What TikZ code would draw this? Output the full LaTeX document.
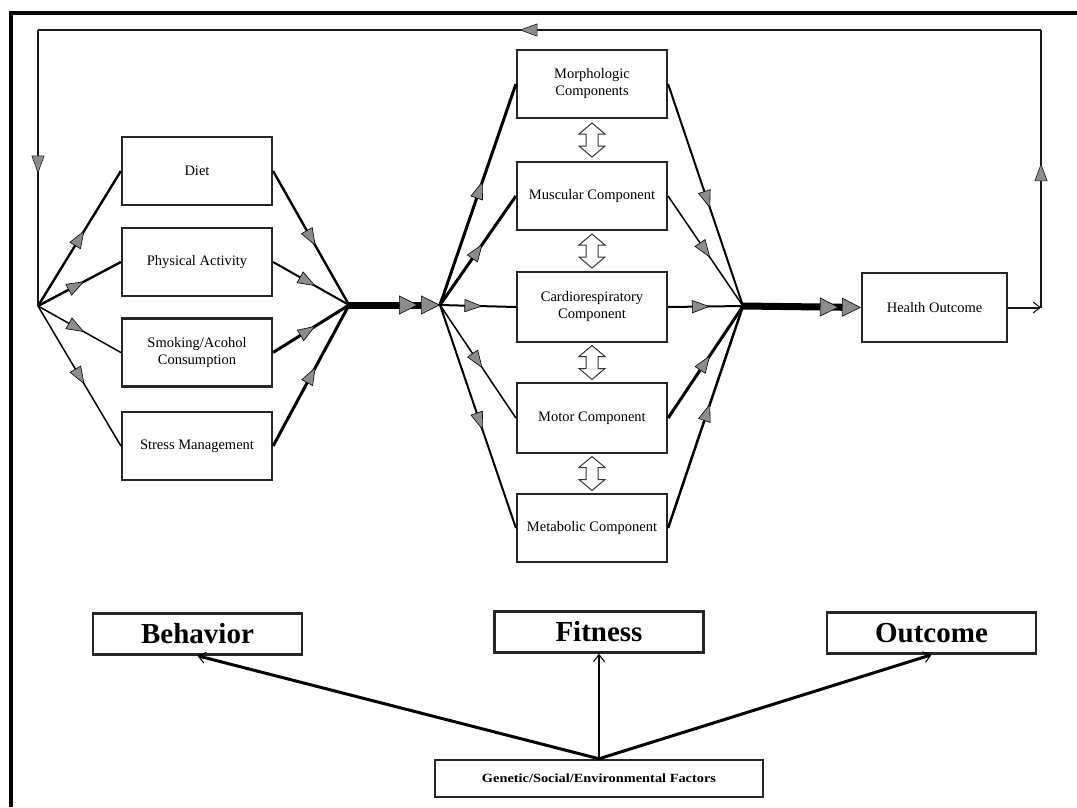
\documentclass[tikz,border=0pt]{standalone}
\usepackage{fontspec}
\usepackage{graphicx}
\setmainfont{Liberation Serif}
\usetikzlibrary{arrows.meta,decorations.markings,calc}

\tikzset{
  x=1pt, y=-1pt,
  gtri/.tip={Triangle[length=18pt,width=13pt,fill=gray!90,line width=0.6pt]},
  barb/.tip={Straight Barb[length=7pt,width=11pt,line width=1.1pt]},
  comp/.style={draw=black!85, line width=2.2pt, fill=white, inner sep=2pt,
    align=center, font=\fontsize{14.5}{17}\selectfont,
    minimum width=150pt, minimum height=68pt},
  stage/.style={draw=black!85, line width=2.5pt, fill=white, inner sep=0pt,
    minimum width=209pt, minimum height=41pt,
    font=\bfseries\fontsize{29}{30}\selectfont},
  link/.style={draw=black, line width=#1, postaction={decorate},
    decoration={markings, mark=at position 0.56 with {\arrow{gtri}}}},
  link/.default=2pt,
  trunk/.style={draw=black, line width=7pt,
    -{Triangle[length=19pt,width=19pt,fill=gray!90,line width=0.6pt,sep=3pt]
      Triangle[length=19pt,width=19pt,fill=gray!90,line width=0.6pt]}},
  feedback/.style={draw=black!90, line width=2pt},
  factor/.style={draw=black, line width=#1, -barb},
  factor/.default=3pt,
  swap/.style={draw=black!80, fill=white, line width=1pt, line join=miter}
}

\begin{document}
\begin{tikzpicture}
\useasboundingbox (0,0) rectangle (1077,807);

% outer frame (top and left edges only)
\draw[line width=4pt, line join=miter] (11,807) -- (11,13) -- (1077,13);

% behaviour components
\node[comp] (diet)   at (197,171)   {Diet};
\node[comp] (phys)   at (197,262)   {Physical Activity};
\node[comp] (smoke)  at (197,352.5) {Smoking/Acohol\\Consumption};
\node[comp] (stress) at (197,446)   {Stress Management};

% fitness components
\node[comp] (morph)  at (592,84)  {Morphologic\\Components};
\node[comp] (musc)   at (592,196) {Muscular Component};
\node[comp, minimum height=70pt] (cardio) at (592,307) {Cardiorespiratory\\Component};
\node[comp, minimum height=70pt] (motor)  at (592,418) {Motor Component};
\node[comp] (metab)  at (592,528) {Metabolic Component};

% outcome
\node[comp, minimum width=145pt, minimum height=69pt] (health) at (934.5,307.5) {Health Outcome};

% junction points
\coordinate (hubA) at (38,306);
\coordinate (hubB) at (349,305);
\coordinate (hubC) at (440,305);
\coordinate (hubD) at (743,306);

% behaviour fan-out and fan-in
\draw[link=2.4pt] (hubA) -- (diet.west);
\draw[link=2.4pt] (hubA) -- (phys.west);
\draw[link=1.5pt] (hubA) -- (smoke.west);
\draw[link=1.5pt] (hubA) -- (stress.west);
\draw[link=2.4pt] (diet.east)   -- (hubB);
\draw[link=2pt]   (phys.east)   -- (hubB);
\draw[link=3pt]   (smoke.east)  -- (hubB);
\draw[link=3pt]   (stress.east) -- (hubB);

\draw[trunk] (hubB) -- (hubC);

% fitness fan-out and fan-in
\draw[link=3pt]   (hubC) -- (morph.west);
\draw[link=3pt]   (hubC) -- (musc.west);
\draw[link=2pt]   (hubC) -- (cardio.west);
\draw[link=1.5pt] (hubC) -- (motor.west);
\draw[link=2pt]   (hubC) -- (metab.west);
\draw[link=2pt]   (morph.east)  -- (hubD);
\draw[link=1.5pt] (musc.east)   -- (hubD);
\draw[link=2pt]   (cardio.east) -- (hubD);
\draw[link=3pt]   (motor.east)  -- (hubD);
\draw[link=2.5pt] (metab.east)  -- (hubD);

\draw[trunk] (hubD) -- (health.west);

% interactions between fitness components
\foreach \a/\b in {morph/musc, musc/cardio, cardio/motor, motor/metab}{
  \coordinate (m) at ($(\a.south)!0.5!(\b.north)$);
  \begin{scope}[shift={(m)}]
    \draw[swap] (0,-17) -- (13,-6) -- (6,-6) -- (6,6) -- (13,6) -- (0,17)
      -- (-13,6) -- (-6,6) -- (-6,-6) -- (-13,-6) -- cycle;
  \end{scope}
}

% feedback loop
\coordinate (cR)  at (1041,307.5);
\coordinate (cTR) at (1041,30);
\coordinate (cTL) at (38,30);
\draw[feedback, -barb] (health.east) -- (cR);
\draw[feedback, postaction={decorate},
  decoration={markings, mark=at position 0.52 with {\arrow{gtri}}}] (cR) -- (cTR);
\draw[feedback, postaction={decorate},
  decoration={markings, mark=at position 0.52 with {\arrow{gtri}}}] (cTR) -- (cTL);
\draw[feedback, postaction={decorate},
  decoration={markings, mark=at position 0.52 with {\arrow{gtri}}}] (cTL) -- (hubA);

% stages and influencing factors
\node[stage] (behavior) at (197.5,634) {Behavior};
\node[stage] (fitness)  at (599,632)   {Fitness};
\node[stage] (outcome)  at (931.5,633) {Outcome};
\node[draw=black!85, line width=2.5pt, minimum width=328pt, minimum height=37pt,
  inner sep=0pt] (gsef) at (599,778.5)
  {\scalebox{1.15}[1]{\bfseries\fontsize{12.5}{13}\selectfont Genetic/Social/Environmental Factors}};

\draw[factor] (gsef.north) -- (behavior.south);
\draw[factor=2pt] (gsef.north) -- (fitness.south);
\draw[factor] (gsef.north) -- (outcome.south);
\end{tikzpicture}
\end{document}
